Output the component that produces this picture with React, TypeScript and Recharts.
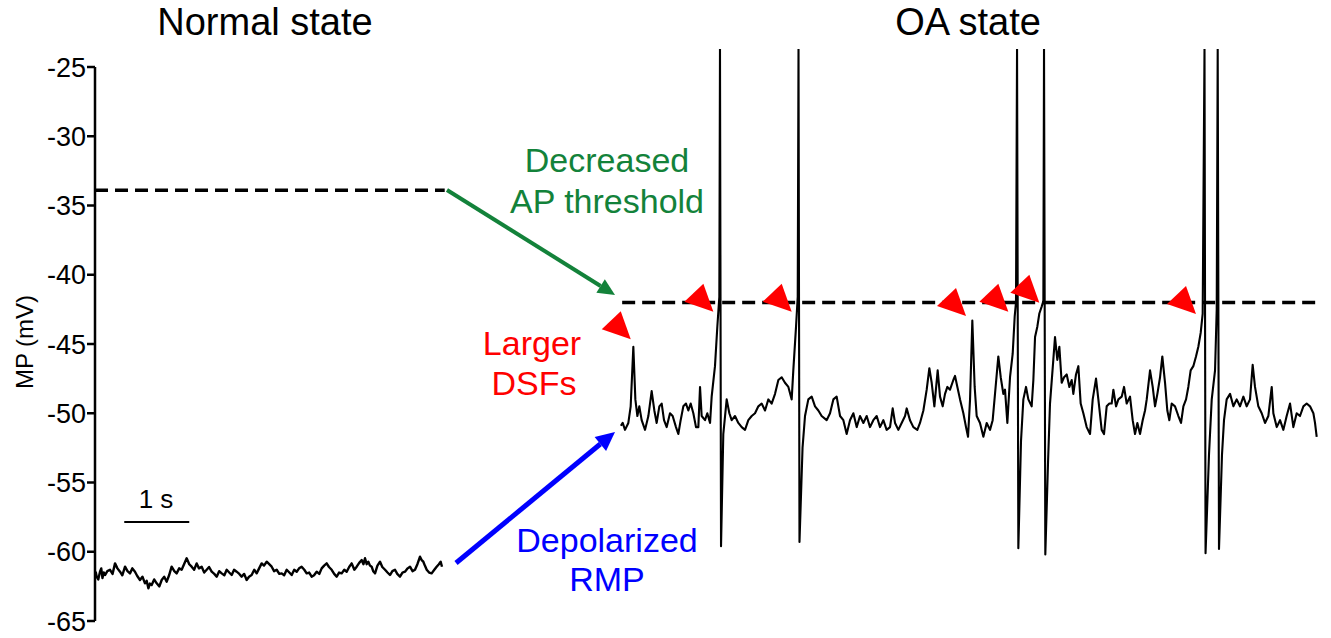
import React from "react";
import {
  ComposedChart, Line, Scatter, XAxis, YAxis, ReferenceLine
} from "recharts";

// time (s), membrane potential (mV)
const normalTrace: [number, number][] = [
  [0.0, -61.9], [0.013, -61.5], [0.026, -61.8], [0.05, -62.0], [0.077, -61.44], [0.096, -61.2],
  [0.115, -61.9], [0.135, -61.5], [0.154, -61.68], [0.19, -61.4], [0.231, -61.3], [0.27, -61.6],
  [0.308, -60.84], [0.345, -61.2], [0.385, -61.44], [0.42, -61.7], [0.462, -61.08], [0.5, -61.4],
  [0.538, -61.56], [0.575, -61.2], [0.615, -61.44], [0.65, -61.75], [0.692, -62.04], [0.73, -61.8],
  [0.769, -62.28], [0.795, -62.1], [0.821, -62.64], [0.845, -62.3], [0.872, -62.4], [0.91, -62.0],
  [0.949, -62.28], [0.99, -62.5], [1.026, -62.04], [1.065, -61.8], [1.103, -62.16], [1.14, -61.7],
  [1.179, -61.08], [1.22, -61.4], [1.256, -61.56], [1.295, -61.2], [1.333, -61.3], [1.37, -60.9],
  [1.41, -60.47], [1.45, -60.9], [1.487, -61.08], [1.525, -61.3], [1.564, -60.84], [1.6, -61.2],
  [1.641, -61.08], [1.68, -61.5], [1.718, -61.3], [1.755, -61.1], [1.795, -61.44], [1.835, -61.6],
  [1.872, -61.8], [1.91, -61.4], [1.949, -61.56], [1.99, -61.7], [2.026, -61.3], [2.065, -61.5],
  [2.103, -61.68], [2.14, -61.3], [2.179, -61.44], [2.22, -61.6], [2.256, -61.8], [2.295, -61.6],
  [2.333, -62.04], [2.37, -61.8], [2.41, -61.68], [2.45, -61.3], [2.487, -61.56], [2.525, -61.2],
  [2.564, -60.84], [2.6, -61.0], [2.641, -60.72], [2.68, -60.9], [2.718, -61.08], [2.755, -61.4],
  [2.795, -61.3], [2.835, -61.6], [2.872, -61.56], [2.91, -61.7], [2.949, -61.3], [2.99, -61.5],
  [3.026, -61.68], [3.065, -61.3], [3.103, -61.44], [3.14, -61.2], [3.179, -61.08], [3.22, -61.3],
  [3.256, -61.56], [3.295, -61.5], [3.333, -61.8], [3.37, -61.7], [3.41, -61.44], [3.45, -61.6],
  [3.487, -61.2], [3.525, -61.0], [3.564, -60.84], [3.6, -61.1], [3.641, -61.3], [3.68, -61.6],
  [3.718, -61.8], [3.755, -61.5], [3.795, -61.56], [3.835, -61.3], [3.872, -61.44], [3.91, -61.1],
  [3.949, -60.84], [3.99, -61.3], [4.026, -61.08], [4.065, -60.8], [4.103, -60.6], [4.13, -60.9],
  [4.154, -60.47], [4.18, -60.9], [4.205, -60.72], [4.23, -61.0], [4.256, -61.08], [4.28, -61.4],
  [4.308, -61.56], [4.345, -61.0], [4.385, -60.72], [4.42, -61.1], [4.462, -61.3], [4.5, -61.5],
  [4.538, -61.68], [4.575, -61.4], [4.615, -61.3], [4.65, -61.6], [4.692, -61.8], [4.73, -61.5],
  [4.769, -61.44], [4.81, -61.2], [4.846, -61.08], [4.885, -61.4], [4.923, -61.3], [4.96, -60.9],
  [5.0, -60.36], [5.025, -60.6], [5.051, -60.72], [5.075, -61.0], [5.103, -61.3], [5.14, -61.5],
  [5.179, -61.56], [5.22, -61.3], [5.256, -61.08], [5.29, -60.9], [5.318, -60.72], [5.338, -61.08],
];

const oaTrace: [number, number][] = [
  [8.09, -50.9], [8.118, -50.7], [8.154, -51.2], [8.205, -50.7], [8.241, -49.5],
  [8.282, -45.2], [8.313, -49.0], [8.344, -50.2], [8.374, -49.5], [8.41, -50.5],
  [8.462, -51.2], [8.513, -50.2], [8.564, -48.4], [8.605, -49.8], [8.641, -50.7],
  [8.682, -49.5], [8.718, -49.3], [8.754, -50.5], [8.795, -51.0], [8.846, -50.0],
  [8.887, -50.2], [8.938, -51.0], [8.974, -51.5], [9.01, -50.5], [9.051, -49.5],
  [9.092, -49.3], [9.128, -49.8], [9.164, -49.3], [9.205, -50.0], [9.246, -51.0],
  [9.282, -51.0], [9.308, -48.1], [9.333, -50.2], [9.385, -50.5], [9.42, -50.0],
  [9.462, -50.7], [9.487, -48.8], [9.538, -46.6], [9.574, -43.75], [9.605, -41.6],
  // spike 1
  [9.615, -23.7], [9.631, -59.6], [9.666, -51.5], [9.718, -49.0],
  [9.759, -50.0], [9.795, -50.5], [9.846, -50.2], [9.897, -50.7], [9.949, -51.0],
  [10.0, -51.2], [10.051, -50.5], [10.103, -50.2], [10.154, -50.0], [10.205, -49.5],
  [10.256, -49.3], [10.308, -49.8], [10.359, -49.0], [10.41, -49.3], [10.462, -48.6],
  [10.513, -47.6], [10.564, -47.4], [10.615, -47.8], [10.667, -48.1], [10.718, -49.0],
  [10.743, -46.9], [10.785, -43.75], [10.811, -41.6],
  // spike 2
  [10.823, -23.7], [10.838, -59.3], [10.885, -52.5], [10.923, -50.2], [10.974, -49.0],
  [11.026, -48.8], [11.077, -49.5], [11.128, -49.8], [11.179, -50.2], [11.256, -50.5],
  [11.308, -50.0], [11.359, -49.0], [11.41, -48.8], [11.462, -50.2], [11.513, -50.5],
  [11.564, -51.5], [11.615, -50.5], [11.667, -50.0], [11.718, -51.0], [11.769, -50.2],
  [11.821, -50.7], [11.872, -50.2], [11.923, -51.0], [11.974, -50.5], [12.026, -50.2],
  [12.077, -51.0], [12.128, -50.5], [12.179, -51.2], [12.231, -51.0], [12.272, -49.65],
  [12.308, -50.7], [12.359, -51.2], [12.41, -50.7], [12.462, -50.2], [12.487, -49.65],
  [12.538, -50.5], [12.59, -51.0], [12.651, -51.2], [12.692, -50.7], [12.744, -49.8],
  [12.795, -48.3], [12.836, -46.75], [12.872, -47.8], [12.913, -49.5], [12.964, -46.9],
  [13.0, -48.8], [13.041, -49.5], [13.077, -48.6], [13.113, -48.1], [13.154, -48.3],
  [13.205, -47.6], [13.231, -47.3], [13.267, -48.1], [13.308, -49.0], [13.359, -50.0],
  [13.4, -51.0], [13.431, -51.7], [13.462, -49.0], [13.497, -43.3], [13.533, -48.1],
  [13.564, -50.2], [13.615, -50.7], [13.667, -51.7], [13.718, -50.7], [13.769, -51.2],
  [13.81, -50.5], [13.846, -48.6], [13.897, -45.9], [13.934, -47.4], [13.974, -48.6],
  [14.0, -48.3], [14.036, -50.7], [14.077, -47.4], [14.118, -45.7], [14.149, -43.0],
  [14.169, -42.0],
  // spike 3
  [14.185, -23.7], [14.205, -59.75], [14.246, -52.0], [14.282, -49.0], [14.323, -48.1],
  [14.359, -49.0], [14.41, -49.5], [14.436, -47.6], [14.462, -44.5], [14.497, -43.75],
  [14.528, -42.8], [14.564, -42.3], [14.59, -41.9],
  // spike 4
  [14.6, -23.7], [14.62, -60.2], [14.662, -53.5], [14.692, -49.3], [14.743, -46.15],
  [14.769, -44.5], [14.805, -46.15], [14.836, -45.2], [14.872, -47.8], [14.908, -47.4],
  [14.949, -47.2], [14.99, -48.1], [15.026, -47.6], [15.051, -48.6], [15.092, -47.2],
  [15.128, -46.6], [15.164, -49.3], [15.205, -50.0], [15.256, -51.0], [15.308, -51.5],
  [15.349, -49.0], [15.4, -47.5], [15.436, -49.0], [15.487, -51.2], [15.523, -51.5],
  [15.564, -49.5], [15.605, -49.3], [15.641, -49.3], [15.667, -48.3], [15.708, -49.5],
  [15.744, -49.0], [15.795, -48.8], [15.831, -48.1], [15.872, -49.3], [15.923, -48.8],
  [15.964, -50.5], [16.0, -51.5], [16.036, -50.7], [16.077, -51.5], [16.118, -50.5],
  [16.154, -49.8], [16.18, -49.0], [16.231, -46.9], [16.272, -48.1], [16.308, -49.5],
  [16.344, -48.6], [16.385, -47.4], [16.42, -45.9], [16.462, -47.8], [16.497, -49.8],
  [16.528, -50.5], [16.564, -49.3], [16.615, -49.5], [16.667, -50.2], [16.708, -50.7],
  [16.744, -49.5], [16.785, -49.0], [16.82, -48.1], [16.856, -46.9], [16.897, -46.6],
  [16.938, -45.9], [16.974, -45.2], [17.01, -44.2], [17.041, -42.8],
  // spike 5
  [17.069, -23.7], [17.085, -60.1], [17.138, -53.0], [17.18, -49.0], [17.231, -46.9],
  [17.257, -42.5],
  // spike 6
  [17.272, -23.7], [17.292, -59.8], [17.338, -53.0], [17.369, -50.5], [17.41, -49.0],
  [17.462, -48.6], [17.513, -49.5], [17.564, -49.0], [17.615, -49.5], [17.667, -48.8],
  [17.718, -49.5], [17.769, -49.0], [17.81, -46.5], [17.846, -48.1], [17.897, -49.5],
  [17.949, -50.0], [18.0, -50.7], [18.051, -50.2], [18.103, -48.1], [18.128, -50.0],
  [18.18, -51.0], [18.231, -50.5], [18.282, -51.2], [18.333, -50.2], [18.385, -49.3],
  [18.436, -51.0], [18.487, -50.0], [18.538, -50.2], [18.59, -49.5], [18.641, -49.3],
  [18.692, -49.5], [18.744, -50.0], [18.769, -50.7], [18.795, -51.7],
];

// red arrowheads marking DSFs / AP onsets (tip position)
const dsfMarks: [number, number][] = [
  [8.242, -44.66], [9.513, -42.67], [10.718, -42.67], [13.4, -42.98],
  [14.051, -42.67], [14.528, -42.02], [16.938, -42.83],
];

const yTicks = [-65, -60, -55, -50, -45, -40, -35, -30, -25];

const normalThreshold = { from: 0, to: 5.38, v: -33.9 };
const oaThreshold = { from: 8.11, to: 18.815, v: -42 };
const scaleBar = { from: 0.45, to: 1.45, v: -57.85 };
const greenArrow = { from: [5.415, -33.88], to: [8.0, -41.46] };
const blueArrow = { from: [5.554, -60.81], to: [8.0, -51.35] };

const toRows = (arr: [number, number][]) => arr.map(([t, v]) => ({ t, v }));

const arrowShape = (color: string, width: number, headLen: number, headHalf: number) => (p: any) => {
  const { x1, y1, x2, y2 } = p;
  const a = Math.atan2(y2 - y1, x2 - x1);
  const bx = x2 - headLen * Math.cos(a);
  const by = y2 - headLen * Math.sin(a);
  const nx = -Math.sin(a) * headHalf;
  const ny = Math.cos(a) * headHalf;
  return (
    <g>
      <line x1={x1} y1={y1} x2={bx} y2={by} stroke={color} strokeWidth={width} />
      <polygon points={`${x2},${y2} ${bx + nx},${by + ny} ${bx - nx},${by - ny}`} fill={color} />
    </g>
  );
};

const RedTriangle = (p: any) => {
  const { cx, cy } = p;
  return <polygon points={`${cx},${cy} ${cx - 29},${cy - 10} ${cx - 10},${cy - 28}`} fill="#ff0000" />;
};

const FONT = '"Liberation Sans", Arial, Helvetica, sans-serif';

export default function App() {
  return (
    <div style={{ position: "absolute", left: 0, top: 0, width: 1331, height: 638, background: "#fff", fontFamily: FONT }}>
      <ComposedChart width={1331} height={638} margin={{ top: 49, right: 13, bottom: 17, left: 0 }}>
        <XAxis type="number" dataKey="t" domain={[0, 18.815]} hide height={0} allowDataOverflow />
        <YAxis
          type="number"
          domain={[-65, -23.7]}
          ticks={yTicks}
          interval={0}
          width={95}
          allowDataOverflow
          axisLine={false}
          tickLine={{ stroke: "#000", strokeWidth: 2.5 }}
          tickSize={8}
          tickMargin={1}
          tick={{ fill: "#000", fontSize: 27, fontFamily: FONT }}
        />
        <ReferenceLine segment={[{ x: 0, y: -65 }, { x: 0, y: -25 }]} stroke="#000" strokeWidth={2.5} />

        <ReferenceLine
          segment={[{ x: normalThreshold.from, y: normalThreshold.v }, { x: normalThreshold.to, y: normalThreshold.v }]}
          stroke="#000" strokeWidth={3.5} strokeDasharray="13 7"
        />
        <ReferenceLine
          segment={[{ x: oaThreshold.from, y: oaThreshold.v }, { x: oaThreshold.to, y: oaThreshold.v }]}
          stroke="#000" strokeWidth={3.5} strokeDasharray="13 7"
        />
        <ReferenceLine
          segment={[{ x: scaleBar.from, y: scaleBar.v }, { x: scaleBar.to, y: scaleBar.v }]}
          stroke="#000" strokeWidth={2}
        />
        <ReferenceLine
          segment={[{ x: greenArrow.from[0], y: greenArrow.from[1] }, { x: greenArrow.to[0], y: greenArrow.to[1] }]}
          shape={arrowShape("#13823a", 4, 17, 8)}
        />
        <ReferenceLine
          segment={[{ x: blueArrow.from[0], y: blueArrow.from[1] }, { x: blueArrow.to[0], y: blueArrow.to[1] }]}
          shape={arrowShape("#0000ff", 5, 19, 9)}
        />

        <Line data={toRows(normalTrace)} dataKey="v" type="linear" dot={false} stroke="#000"
          strokeWidth={2.4} strokeLinejoin="round" isAnimationActive={false} />
        <Line data={toRows(oaTrace)} dataKey="v" type="linear" dot={false} stroke="#000"
          strokeWidth={2.1} strokeLinejoin="round" isAnimationActive={false} />
        <Scatter data={toRows(dsfMarks)} dataKey="v" shape={RedTriangle} isAnimationActive={false} />
      </ComposedChart>

      <svg width={1331} height={638} style={{ position: "absolute", left: 0, top: 0, pointerEvents: "none" }}>
        <g fontFamily={FONT} textAnchor="middle">
          <text x={265} y={35} fontSize={38} fill="#000">Normal state</text>
          <text x={968} y={35} fontSize={38} fill="#000">OA state</text>
          <text x={607} y={172} fontSize={34} fill="#13823a">Decreased</text>
          <text x={607} y={213} fontSize={34} fill="#13823a">AP threshold</text>
          <text x={532} y={355} fontSize={34} fill="#ff0000">Larger</text>
          <text x={534} y={395} fontSize={34} fill="#ff0000">DSFs</text>
          <text x={607} y={552} fontSize={34} fill="#0000ff">Depolarized</text>
          <text x={607} y={591} fontSize={34} fill="#0000ff">RMP</text>
          <text x={156} y={508} fontSize={26} fill="#000">1 s</text>
          <text transform="translate(33,342) rotate(-90)" fontSize={24} fill="#000">MP (mV)</text>
        </g>
      </svg>
    </div>
  );
}
